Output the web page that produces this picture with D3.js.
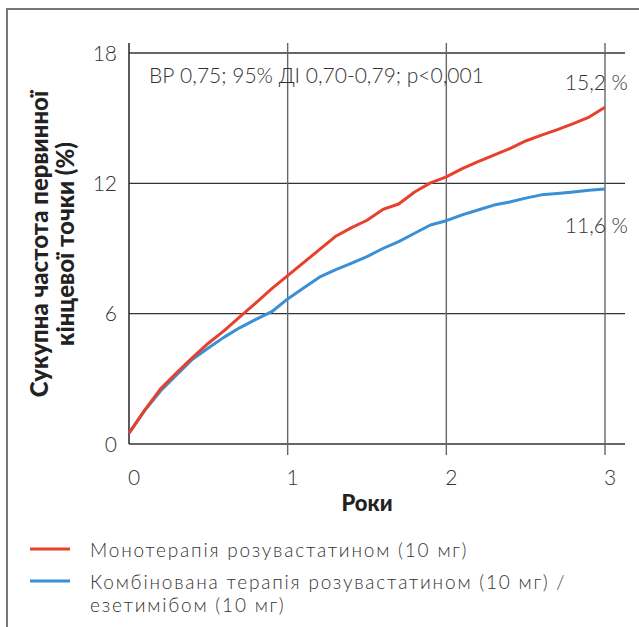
<!DOCTYPE html>
<html>
<head>
  <meta charset="utf-8">
  <title>Сукупна частота первинної кінцевої точки</title>
  <script src="https://d3js.org/d3.v7.min.js"></script>
  <style>
    html, body { margin: 0; padding: 0; background: #fff; }
    svg { display: block; }
  </style>
</head>
<body>
  <svg id="chart"></svg>

  <script>
    // Data
    const years = [0, 0.1, 0.2, 0.3, 0.4, 0.5, 0.6, 0.7, 0.8, 0.9, 1.0,
                   1.1, 1.2, 1.3, 1.4, 1.5, 1.6, 1.7, 1.8, 1.9, 2.0,
                   2.1, 2.2, 2.3, 2.4, 2.5, 2.6, 2.7, 2.8, 2.9, 3.0];
    const monoValues = [0.5, 1.57, 2.55, 3.28, 3.98, 4.64, 5.22, 5.86, 6.5, 7.15, 7.75,
                        8.35, 8.95, 9.55, 9.95, 10.3, 10.8, 11.05, 11.6, 12.02, 12.3,
                        12.68, 13.0, 13.3, 13.6, 13.95, 14.22, 14.47, 14.75, 15.05, 15.5];
    const comboValues = [0.5, 1.55, 2.45, 3.18, 3.9, 4.42, 4.92, 5.36, 5.74, 6.09, 6.68,
                         7.18, 7.68, 8.02, 8.32, 8.63, 9.0, 9.32, 9.7, 10.08, 10.28,
                         10.55, 10.77, 11.0, 11.14, 11.32, 11.47, 11.53, 11.6, 11.68, 11.74];
    const xTicks = [0, 1, 2, 3];
    const yTicks = [0, 6, 12, 18];
    const seriesNames = ["Монотерапія розувастатином (10 мг)",
                         ["Комбінована терапія розувастатином (10 мг) /", "езетимібом (10 мг)"]];
    const endLabels = ["15,2 %", "11,6 %"];
    const statText = "ВР 0,75; 95% ДІ 0,70-0,79; р<0,001";

    const W = 639, H = 627;
    const red = "#e8402e", blue = "#3a8fd5";
    const font = "Lato, 'Open Sans', sans-serif";

    const svg = d3.select("#chart").attr("width", W).attr("height", H);

    // frame
    svg.append("rect")
       .attr("x", 7).attr("y", 9)
       .attr("width", 700).attr("height", 700)
       .attr("fill", "none").attr("stroke", "#777").attr("stroke-width", 2);

    const x = d3.scaleLinear().domain([0, 3]).range([129, 605]);
    const y = d3.scaleLinear().domain([0, 18]).range([444, 53]);

    // horizontal grid
    svg.selectAll("line.h").data(yTicks).enter().append("line")
       .attr("x1", x(0)).attr("x2", 625)
       .attr("y1", d => y(d)).attr("y2", d => y(d))
       .attr("stroke", "#333").attr("stroke-width", 1.4);

    // vertical grid
    svg.selectAll("line.v").data(xTicks.slice(1)).enter().append("line")
       .attr("x1", d => x(d)).attr("x2", d => x(d))
       .attr("y1", 43).attr("y2", 455)
       .attr("stroke", "#666").attr("stroke-width", 1.4);

    // left axis
    svg.append("line")
       .attr("x1", x(0)).attr("x2", x(0))
       .attr("y1", 43).attr("y2", y(0))
       .attr("stroke", "#333").attr("stroke-width", 1.6);

    // tick labels
    svg.selectAll("text.yt").data(yTicks).enter().append("text")
       .attr("x", 117).attr("y", d => y(d) + 7.5)
       .attr("text-anchor", "end")
       .style("font", `300 21px ${font}`).attr("fill", "#333")
       .text(d => d);

    svg.selectAll("text.xt").data(xTicks).enter().append("text")
       .attr("x", d => x(d) + 5).attr("y", 485)
       .attr("text-anchor", "middle")
       .style("font", `300 21px ${font}`).attr("fill", "#333")
       .text(d => d);

    // axis titles
    svg.append("text")
       .attr("x", x(1.5)).attr("y", 511)
       .attr("text-anchor", "middle")
       .style("font", `900 22px ${font}`).attr("fill", "#222")
       .text("Роки");

    const yt = svg.append("text")
       .attr("transform", "translate(0,244) rotate(-90)")
       .attr("text-anchor", "middle")
       .style("font", `900 24px ${font}`).attr("fill", "#222");
    yt.append("tspan").attr("x", 0).attr("y", 48).text("Сукупна частота первинної");
    yt.append("tspan").attr("x", 0).attr("y", 74).text("кінцевої точки (%)");

    // lines
    const line = d3.line()
       .x((d, i) => x(years[i]))
       .y(d => y(d));

    svg.append("path").datum(comboValues)
       .attr("d", line).attr("fill", "none")
       .attr("stroke", blue).attr("stroke-width", 3).attr("stroke-linejoin", "round");

    svg.append("path").datum(monoValues)
       .attr("d", line).attr("fill", "none")
       .attr("stroke", red).attr("stroke-width", 3).attr("stroke-linejoin", "round");

    // annotations
    svg.append("text")
       .attr("x", 149).attr("y", 83)
       .style("font", `300 21px ${font}`).attr("fill", "#333")
       .text(statText);

    svg.append("text")
       .attr("x", 628).attr("y", 90).attr("text-anchor", "end")
       .style("font", `300 21px ${font}`).attr("fill", "#333")
       .text(endLabels[0]);

    svg.append("text")
       .attr("x", 628).attr("y", 233).attr("text-anchor", "end")
       .style("font", `300 21px ${font}`).attr("fill", "#333")
       .text(endLabels[1]);

    // legend
    const legendY = [549, 581];
    const colors = [red, blue];
    legendY.forEach((ly, i) => {
      svg.append("line")
         .attr("x1", 30).attr("x2", 70).attr("y1", ly).attr("y2", ly)
         .attr("stroke", colors[i]).attr("stroke-width", 3);
      const lines = Array.isArray(seriesNames[i]) ? seriesNames[i] : [seriesNames[i]];
      const t = svg.append("text")
         .style("font", `300 19px ${font}`).attr("fill", "#333")
         .style("letter-spacing", "1.8px");
      lines.forEach((s, j) => {
        t.append("tspan").attr("x", 90).attr("y", ly + 8 + j * 23).text(s);
      });
    });
  </script>
</body>
</html>
